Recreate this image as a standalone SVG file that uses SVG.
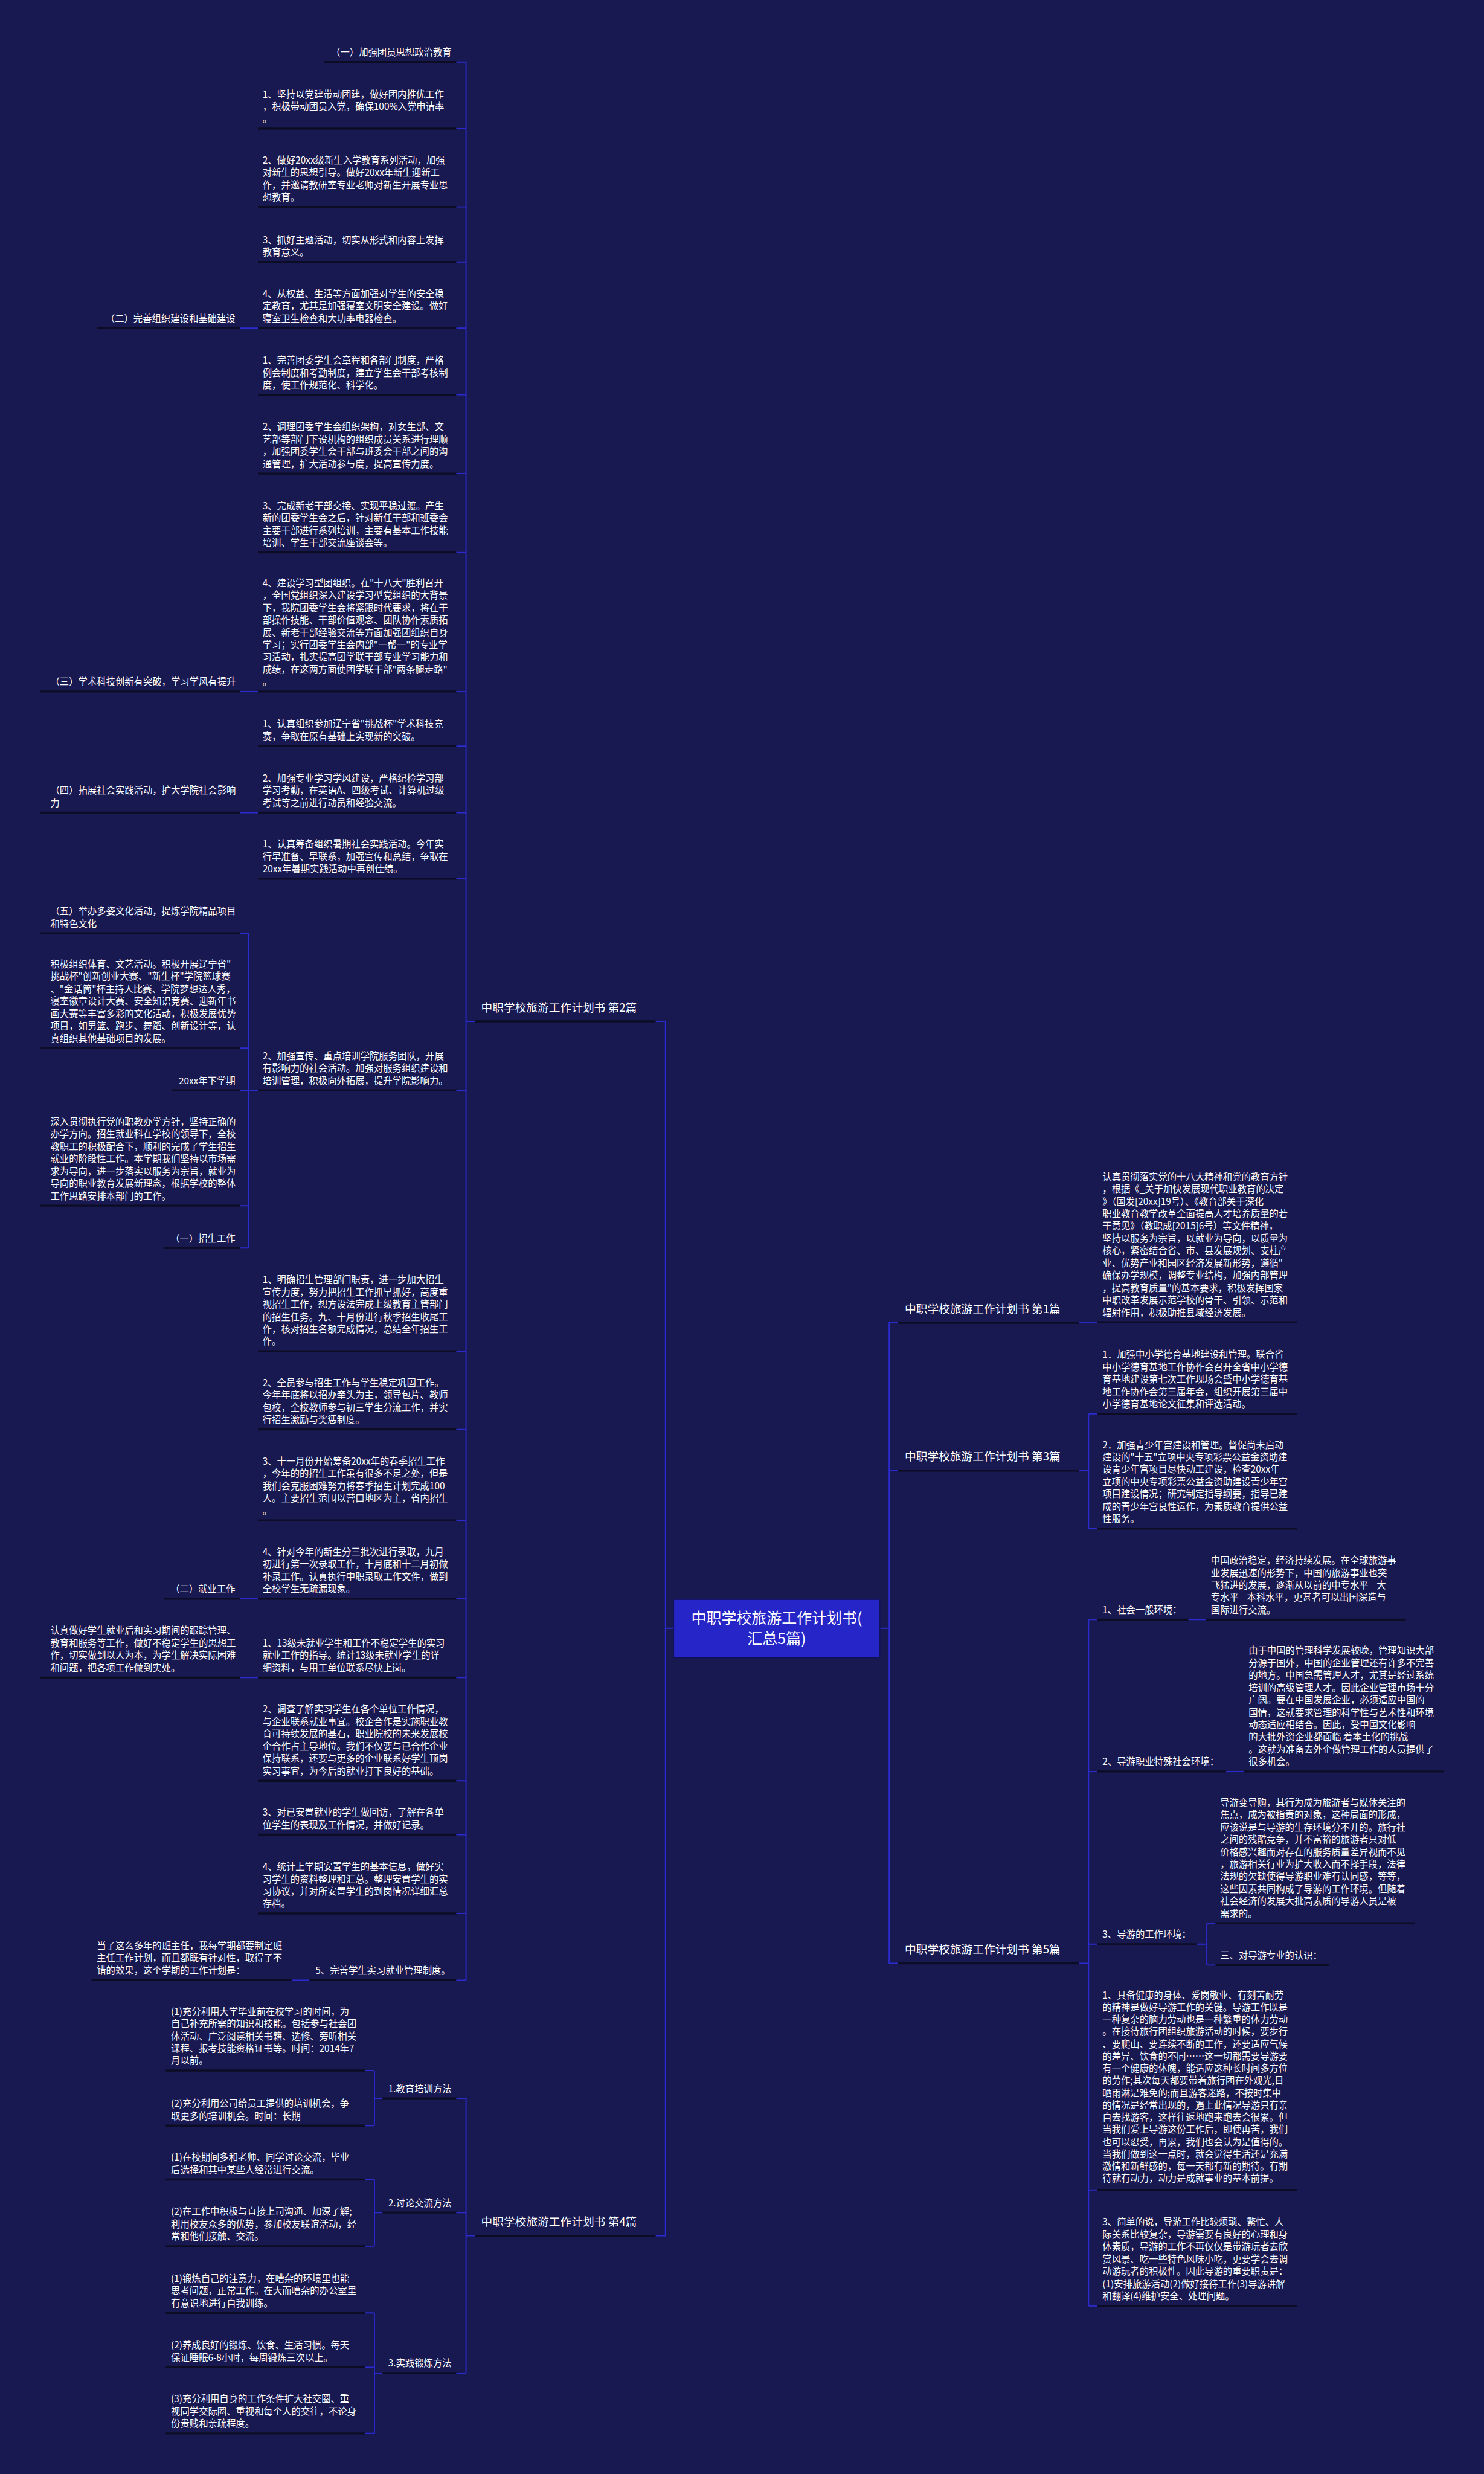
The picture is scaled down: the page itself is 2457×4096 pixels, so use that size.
<svg xmlns="http://www.w3.org/2000/svg" width="2457" height="4096" viewBox="0 0 2457 4096">
<style>
text{font-family:"Noto Sans CJK SC","Noto Sans",sans-serif;fill:#ffffff;font-size:16px}
.h{font-size:19.5px}
.c{font-size:26px;text-anchor:middle}
.e{text-anchor:end}
.u{stroke:#0c0c24;stroke-width:3.5}
.k{stroke:#2b2bd0;stroke-width:2;fill:none}
</style>
<rect width="2457" height="4096" fill="#191952"/>
<g transform="scale(0.9597)">
<g id="connectors" class="k">
<path d="M1131,1762 H1148 V3857 H1131 M1148,2809 H1162"/>
<path d="M1518,2809 H1534 M1549,2282 H1534 V3387 H1549 M1534,2537 H1549"/>
<path d="M819,1762 H804 M804,107 V3416 M787,107 H804 M787,222 H804 M787,357 H804 M787,452 H804 M787,566 H804 M787,681 H804 M787,817 H804 M787,953 H804 M787,1193 H804 M787,1287 H804 M787,1402 H804 M787,1516 H804 M787,1881 H804 M787,2331 H804 M787,2466 H804 M787,2623 H804 M787,2758 H804 M787,2894 H804 M787,3072 H804 M787,3165 H804 M787,3301 H804 M787,3416 H804"/>
<path d="M414,566 H445 M414,1193 H445 M414,1402 H445 M414,2758 H445 M414,2894 H445 M503,3416 H534"/>
<path d="M445,1881 H429 M429,1610 V2153 M414,1610 H429 M414,1808 H429 M414,1881 H429 M414,2080 H429 M414,2153 H429"/>
<path d="M819,3857 H804 M804,3620 V4094 M787,3620 H804 M787,3817 H804 M787,4094 H804"/>
<path d="M660,3620 H646 M646,3572 V3667 M630,3572 H646 M630,3667 H646"/>
<path d="M660,3817 H646 M646,3760 V3875 M630,3760 H646 M630,3875 H646"/>
<path d="M660,4094 H646 M646,3990 V4198 M630,3990 H646 M630,4084 H646 M630,4198 H646"/>
<path d="M1862,2282 H1893"/>
<path d="M1862,2537 H1878 M1878,2439 V2637 M1878,2439 H1893 M1878,2637 H1893"/>
<path d="M1862,3387 H1878 M1878,2794 V3978 M1878,2794 H1893 M1878,3056 H1893 M1878,3354 H1893 M1878,3778 H1893 M1878,3978 H1893"/>
<path d="M2050,2794 H2080 M2115,3056 H2146"/>
<path d="M2065,3354 H2082 M2082,3318 V3390 M2082,3318 H2097 M2082,3390 H2097"/>
</g>

<g id="root">
<rect x="1162" y="2759" width="356" height="101" fill="#2626c8" stroke="#12125a" stroke-width="2"/>
<text class="c" x="1340" y="2801">中职学校旅游工作计划书(</text>
<text class="c" x="1340" y="2836">汇总5篇)</text>
</g>

<g id="p2"><text class="h" x="830" y="1745">中职学校旅游工作计划书 第2篇</text><line class="u" x1="819" y1="1762" x2="1131" y2="1762"/></g>
<g id="p4"><text class="h" x="830" y="3840">中职学校旅游工作计划书 第4篇</text><line class="u" x1="819" y1="3857" x2="1131" y2="3857"/></g>
<g id="p1"><text class="h" x="1561" y="2265">中职学校旅游工作计划书 第1篇</text><line class="u" x1="1549" y1="2282" x2="1862" y2="2282"/></g>
<g id="p3"><text class="h" x="1561" y="2520">中职学校旅游工作计划书 第3篇</text><line class="u" x1="1549" y1="2537" x2="1862" y2="2537"/></g>
<g id="p5"><text class="h" x="1561" y="3370">中职学校旅游工作计划书 第5篇</text><line class="u" x1="1549" y1="3387" x2="1862" y2="3387"/></g>

<g id="a1"><text class="e" x="779" y="96">（一）加强团员思想政治教育</text><line class="u" x1="559" y1="107" x2="787" y2="107"/></g>
<g id="a2"><text x="453" y="168.4"><tspan x="453">1、坚持以党建带动团建，做好团内推优工作</tspan><tspan x="453" dy="21.3">，积极带动团员入党，确保100%入党申请率</tspan><tspan x="453" dy="21.3">。</tspan></text><line class="u" x1="445" y1="222" x2="787" y2="222"/></g>
<g id="a3"><text x="453" y="282.1"><tspan x="453">2、做好20xx级新生入学教育系列活动，加强</tspan><tspan x="453" dy="21.3">对新生的思想引导。做好20xx年新生迎新工</tspan><tspan x="453" dy="21.3">作，并邀请教研室专业老师对新生开展专业思</tspan><tspan x="453" dy="21.3">想教育。</tspan></text><line class="u" x1="445" y1="357" x2="787" y2="357"/></g>
<g id="a4"><text x="453" y="419.7"><tspan x="453">3、抓好主题活动，切实从形式和内容上发挥</tspan><tspan x="453" dy="21.3">教育意义。</tspan></text><line class="u" x1="445" y1="452" x2="787" y2="452"/></g>
<g id="a5"><text x="453" y="512.4"><tspan x="453">4、从权益、生活等方面加强对学生的安全稳</tspan><tspan x="453" dy="21.3">定教育，尤其是加强寝室文明安全建设。做好</tspan><tspan x="453" dy="21.3">寝室卫生检查和大功率电器检查。</tspan></text><line class="u" x1="445" y1="566" x2="787" y2="566"/></g>
<g id="a6"><text x="453" y="627.4"><tspan x="453">1、完善团委学生会章程和各部门制度，严格</tspan><tspan x="453" dy="21.3">例会制度和考勤制度，建立学生会干部考核制</tspan><tspan x="453" dy="21.3">度，使工作规范化、科学化。</tspan></text><line class="u" x1="445" y1="681" x2="787" y2="681"/></g>
<g id="a7"><text x="453" y="742.1"><tspan x="453">2、调理团委学生会组织架构，对女生部、文</tspan><tspan x="453" dy="21.3">艺部等部门下设机构的组织成员关系进行理顺</tspan><tspan x="453" dy="21.3">，加强团委学生会干部与班委会干部之间的沟</tspan><tspan x="453" dy="21.3">通管理，扩大活动参与度，提高宣传力度。</tspan></text><line class="u" x1="445" y1="817" x2="787" y2="817"/></g>
<g id="a8"><text x="453" y="878.1"><tspan x="453">3、完成新老干部交接、实现平稳过渡。产生</tspan><tspan x="453" dy="21.3">新的团委学生会之后，针对新任干部和班委会</tspan><tspan x="453" dy="21.3">主要干部进行系列培训，主要有基本工作技能</tspan><tspan x="453" dy="21.3">培训、学生干部交流座谈会等。</tspan></text><line class="u" x1="445" y1="953" x2="787" y2="953"/></g>
<g id="a9"><text x="453" y="1011.6"><tspan x="453">4、建设学习型团组织。在"十八大"胜利召开</tspan><tspan x="453" dy="21.3">，全国党组织深入建设学习型党组织的大背景</tspan><tspan x="453" dy="21.3">下，我院团委学生会将紧跟时代要求，将在干</tspan><tspan x="453" dy="21.3">部操作技能、干部价值观念、团队协作素质拓</tspan><tspan x="453" dy="21.3">展、新老干部经验交流等方面加强团组织自身</tspan><tspan x="453" dy="21.3">学习；实行团委学生会内部"一帮一"的专业学</tspan><tspan x="453" dy="21.3">习活动，扎实提高团学联干部专业学习能力和</tspan><tspan x="453" dy="21.3">成绩，在这两方面使团学联干部"两条腿走路"</tspan><tspan x="453" dy="21.3">。</tspan></text><line class="u" x1="445" y1="1193" x2="787" y2="1193"/></g>
<g id="a10"><text x="453" y="1254.7"><tspan x="453">1、认真组织参加辽宁省"挑战杯"学术科技竞</tspan><tspan x="453" dy="21.3">赛，争取在原有基础上实现新的突破。</tspan></text><line class="u" x1="445" y1="1287" x2="787" y2="1287"/></g>
<g id="a11"><text x="453" y="1348.4"><tspan x="453">2、加强专业学习学风建设，严格纪检学习部</tspan><tspan x="453" dy="21.3">学习考勤，在英语A、四级考试、计算机过级</tspan><tspan x="453" dy="21.3">考试等之前进行动员和经验交流。</tspan></text><line class="u" x1="445" y1="1402" x2="787" y2="1402"/></g>
<g id="a12"><text x="453" y="1462.4"><tspan x="453">1、认真筹备组织暑期社会实践活动。今年实</tspan><tspan x="453" dy="21.3">行早准备、早联系，加强宣传和总结，争取在</tspan><tspan x="453" dy="21.3">20xx年暑期实践活动中再创佳绩。</tspan></text><line class="u" x1="445" y1="1516" x2="787" y2="1516"/></g>
<g id="a13"><text x="453" y="1827.4"><tspan x="453">2、加强宣传、重点培训学院服务团队，开展</tspan><tspan x="453" dy="21.3">有影响力的社会活动。加强对服务组织建设和</tspan><tspan x="453" dy="21.3">培训管理，积极向外拓展，提升学院影响力。</tspan></text><line class="u" x1="445" y1="1881" x2="787" y2="1881"/></g>
<g id="a14"><text x="453" y="2213.5"><tspan x="453">1、明确招生管理部门职责，进一步加大招生</tspan><tspan x="453" dy="21.3">宣传力度，努力把招生工作抓早抓好，高度重</tspan><tspan x="453" dy="21.3">视招生工作，想方设法完成上级教育主管部门</tspan><tspan x="453" dy="21.3">的招生任务。九、十月份进行秋季招生收尾工</tspan><tspan x="453" dy="21.3">作，核对招生名额完成情况，总结全年招生工</tspan><tspan x="453" dy="21.3">作。</tspan></text><line class="u" x1="445" y1="2331" x2="787" y2="2331"/></g>
<g id="a15"><text x="453" y="2391.1"><tspan x="453">2、全员参与招生工作与学生稳定巩固工作。</tspan><tspan x="453" dy="21.3">今年年底将以招办牵头为主，领导包片、教师</tspan><tspan x="453" dy="21.3">包校，全校教师参与初三学生分流工作，并实</tspan><tspan x="453" dy="21.3">行招生激励与奖惩制度。</tspan></text><line class="u" x1="445" y1="2466" x2="787" y2="2466"/></g>
<g id="a16"><text x="453" y="2526.8"><tspan x="453">3、十一月份开始筹备20xx年的春季招生工作</tspan><tspan x="453" dy="21.3">，今年的的招生工作虽有很多不足之处，但是</tspan><tspan x="453" dy="21.3">我们会克服困难努力将春季招生计划完成100</tspan><tspan x="453" dy="21.3">人。主要招生范围以营口地区为主，省内招生</tspan><tspan x="453" dy="21.3">。</tspan></text><line class="u" x1="445" y1="2623" x2="787" y2="2623"/></g>
<g id="a17"><text x="453" y="2683.1"><tspan x="453">4、针对今年的新生分三批次进行录取，九月</tspan><tspan x="453" dy="21.3">初进行第一次录取工作，十月底和十二月初做</tspan><tspan x="453" dy="21.3">补录工作。认真执行中职录取工作文件，做到</tspan><tspan x="453" dy="21.3">全校学生无疏漏现象。</tspan></text><line class="u" x1="445" y1="2758" x2="787" y2="2758"/></g>
<g id="a18"><text x="453" y="2840.4"><tspan x="453">1、13级未就业学生和工作不稳定学生的实习</tspan><tspan x="453" dy="21.3">就业工作的指导。统计13级未就业学生的详</tspan><tspan x="453" dy="21.3">细资料，与用工单位联系尽快上岗。</tspan></text><line class="u" x1="445" y1="2894" x2="787" y2="2894"/></g>
<g id="a19"><text x="453" y="2954.5"><tspan x="453">2、调查了解实习学生在各个单位工作情况，</tspan><tspan x="453" dy="21.3">与企业联系就业事宜。校企合作是实施职业教</tspan><tspan x="453" dy="21.3">育可持续发展的基石，职业院校的未来发展校</tspan><tspan x="453" dy="21.3">企合作占主导地位。我们不仅要与已合作企业</tspan><tspan x="453" dy="21.3">保持联系，还要与更多的企业联系好学生顶岗</tspan><tspan x="453" dy="21.3">实习事宜，为今后的就业打下良好的基础。</tspan></text><line class="u" x1="445" y1="3072" x2="787" y2="3072"/></g>
<g id="a20"><text x="453" y="3132.7"><tspan x="453">3、对已安置就业的学生做回访，了解在各单</tspan><tspan x="453" dy="21.3">位学生的表现及工作情况，并做好记录。</tspan></text><line class="u" x1="445" y1="3165" x2="787" y2="3165"/></g>
<g id="a21"><text x="453" y="3226.1"><tspan x="453">4、统计上学期安置学生的基本信息，做好实</tspan><tspan x="453" dy="21.3">习学生的资料整理和汇总。整理安置学生的实</tspan><tspan x="453" dy="21.3">习协议，并对所安置学生的到岗情况详细汇总</tspan><tspan x="453" dy="21.3">存档。</tspan></text><line class="u" x1="445" y1="3301" x2="787" y2="3301"/></g>
<g id="a22"><text class="e" x="777" y="3405">5、完善学生实习就业管理制度。</text><line class="u" x1="534" y1="3416" x2="787" y2="3416"/></g>

<g id="b1"><text class="e" x="406" y="555">（二）完善组织建设和基础建设</text><line class="u" x1="168" y1="566" x2="414" y2="566"/></g>
<g id="b2"><text x="87" y="1182">（三）学术科技创新有突破，学习学风有提升</text><line class="u" x1="70" y1="1193" x2="414" y2="1193"/></g>
<g id="b3"><text x="87" y="1369.7"><tspan x="87">（四）拓展社会实践活动，扩大学院社会影响</tspan><tspan x="87" dy="21.3">力</tspan></text><line class="u" x1="70" y1="1402" x2="414" y2="1402"/></g>
<g id="b4"><text x="87" y="1577.7"><tspan x="87">（五）举办多姿文化活动，提炼学院精品项目</tspan><tspan x="87" dy="21.3">和特色文化</tspan></text><line class="u" x1="70" y1="1610" x2="414" y2="1610"/></g>
<g id="b5"><text x="87" y="1669.2"><tspan x="87">积极组织体育、文艺活动。积极开展辽宁省"</tspan><tspan x="87" dy="21.3">挑战杯"创新创业大赛、"新生杯"学院篮球赛</tspan><tspan x="87" dy="21.3">、"金话筒"杯主持人比赛、学院梦想达人秀，</tspan><tspan x="87" dy="21.3">寝室徽章设计大赛、安全知识竞赛、迎新年书</tspan><tspan x="87" dy="21.3">画大赛等丰富多彩的文化活动，积极发展优势</tspan><tspan x="87" dy="21.3">项目，如男篮、跑步、舞蹈、创新设计等，认</tspan><tspan x="87" dy="21.3">真组织其他基础项目的发展。</tspan></text><line class="u" x1="70" y1="1808" x2="414" y2="1808"/></g>
<g id="b6"><text class="e" x="406" y="1870">20xx年下学期</text><line class="u" x1="296" y1="1881" x2="414" y2="1881"/></g>
<g id="b7"><text x="87" y="1941.2"><tspan x="87">深入贯彻执行党的职教办学方针，坚持正确的</tspan><tspan x="87" dy="21.3">办学方向。招生就业科在学校的领导下，全校</tspan><tspan x="87" dy="21.3">教职工的积极配合下，顺利的完成了学生招生</tspan><tspan x="87" dy="21.3">就业的阶段性工作。本学期我们坚持以市场需</tspan><tspan x="87" dy="21.3">求为导向，进一步落实以服务为宗旨，就业为</tspan><tspan x="87" dy="21.3">导向的职业教育发展新理念，根据学校的整体</tspan><tspan x="87" dy="21.3">工作思路安排本部门的工作。</tspan></text><line class="u" x1="70" y1="2080" x2="414" y2="2080"/></g>
<g id="b8"><text class="e" x="406" y="2142">（一）招生工作</text><line class="u" x1="283" y1="2153" x2="414" y2="2153"/></g>
<g id="b9"><text class="e" x="406" y="2747">（二）就业工作</text><line class="u" x1="283" y1="2758" x2="414" y2="2758"/></g>
<g id="b10"><text x="87" y="2819.1"><tspan x="87">认真做好学生就业后和实习期间的跟踪管理、</tspan><tspan x="87" dy="21.3">教育和服务等工作，做好不稳定学生的思想工</tspan><tspan x="87" dy="21.3">作，切实做到以人为本，为学生解决实际困难</tspan><tspan x="87" dy="21.3">和问题，把各项工作做到实处。</tspan></text><line class="u" x1="70" y1="2894" x2="414" y2="2894"/></g>
<g id="b11"><text x="167" y="3362.4"><tspan x="167">当了这么多年的班主任，我每学期都要制定班</tspan><tspan x="167" dy="21.3">主任工作计划，而且都既有针对性，取得了不</tspan><tspan x="167" dy="21.3">错的效果，这个学期的工作计划是：</tspan></text><line class="u" x1="158" y1="3416" x2="503" y2="3416"/></g>

<g id="c1"><text class="e" x="779" y="3609">1.教育培训方法</text><line class="u" x1="660" y1="3620" x2="787" y2="3620"/></g>
<g id="c2"><text class="e" x="779" y="3806">2.讨论交流方法</text><line class="u" x1="660" y1="3817" x2="787" y2="3817"/></g>
<g id="c3"><text class="e" x="779" y="4083">3.实践锻炼方法</text><line class="u" x1="660" y1="4094" x2="787" y2="4094"/></g>
<g id="d1"><text x="295" y="3475.8"><tspan x="295">(1)充分利用大学毕业前在校学习的时间，为</tspan><tspan x="295" dy="21.3">自己补充所需的知识和技能。包括参与社会团</tspan><tspan x="295" dy="21.3">体活动、广泛阅读相关书籍、选修、旁听相关</tspan><tspan x="295" dy="21.3">课程、报考技能资格证书等。时间：2014年7</tspan><tspan x="295" dy="21.3">月以前。</tspan></text><line class="u" x1="286" y1="3572" x2="630" y2="3572"/></g>
<g id="d2"><text x="295" y="3634.7"><tspan x="295">(2)充分利用公司给员工提供的培训机会，争</tspan><tspan x="295" dy="21.3">取更多的培训机会。时间：长期</tspan></text><line class="u" x1="286" y1="3667" x2="630" y2="3667"/></g>
<g id="d3"><text x="295" y="3727.7"><tspan x="295">(1)在校期间多和老师、同学讨论交流，毕业</tspan><tspan x="295" dy="21.3">后选择和其中某些人经常进行交流。</tspan></text><line class="u" x1="286" y1="3760" x2="630" y2="3760"/></g>
<g id="d4"><text x="295" y="3821.4"><tspan x="295">(2)在工作中积极与直接上司沟通、加深了解;</tspan><tspan x="295" dy="21.3">利用校友众多的优势，参加校友联谊活动，经</tspan><tspan x="295" dy="21.3">常和他们接触、交流。</tspan></text><line class="u" x1="286" y1="3875" x2="630" y2="3875"/></g>
<g id="d5"><text x="295" y="3936.4"><tspan x="295">(1)锻炼自己的注意力，在嘈杂的环境里也能</tspan><tspan x="295" dy="21.3">思考问题，正常工作。在大而嘈杂的办公室里</tspan><tspan x="295" dy="21.3">有意识地进行自我训练。</tspan></text><line class="u" x1="286" y1="3990" x2="630" y2="3990"/></g>
<g id="d6"><text x="295" y="4051.7"><tspan x="295">(2)养成良好的锻炼、饮食、生活习惯。每天</tspan><tspan x="295" dy="21.3">保证睡眠6-8小时，每周锻炼三次以上。</tspan></text><line class="u" x1="286" y1="4084" x2="630" y2="4084"/></g>
<g id="d7"><text x="295" y="4144.4"><tspan x="295">(3)充分利用自身的工作条件扩大社交圈、重</tspan><tspan x="295" dy="21.3">视同学交际圈、重视和每个人的交往，不论身</tspan><tspan x="295" dy="21.3">份贵贱和亲疏程度。</tspan></text><line class="u" x1="286" y1="4198" x2="630" y2="4198"/></g>

<g id="e1"><text x="1902" y="2035.7"><tspan x="1902">认真贯彻落实党的十八大精神和党的教育方针</tspan><tspan x="1902" dy="21.3">，根据《_关于加快发展现代职业教育的决定</tspan><tspan x="1902" dy="21.3">》（国发[20xx]19号）、《教育部关于深化</tspan><tspan x="1902" dy="21.3">职业教育教学改革全面提高人才培养质量的若</tspan><tspan x="1902" dy="21.3">干意见》（教职成[2015]6号）等文件精神，</tspan><tspan x="1902" dy="21.3">坚持以服务为宗旨，以就业为导向，以质量为</tspan><tspan x="1902" dy="21.3">核心，紧密结合省、市、县发展规划、支柱产</tspan><tspan x="1902" dy="21.3">业、优势产业和园区经济发展新形势，遵循"</tspan><tspan x="1902" dy="21.3">确保办学规模，调整专业结构，加强内部管理</tspan><tspan x="1902" dy="21.3">，提高教育质量"的基本要求，积极发挥国家</tspan><tspan x="1902" dy="21.3">中职改革发展示范学校的骨干、引领、示范和</tspan><tspan x="1902" dy="21.3">辐射作用，积极助推县域经济发展。</tspan></text><line class="u" x1="1893" y1="2281" x2="2237" y2="2281"/></g>
<g id="e2"><text x="1902" y="2342.8"><tspan x="1902">1．加强中小学德育基地建设和管理。联合省</tspan><tspan x="1902" dy="21.3">中小学德育基地工作协作会召开全省中小学德</tspan><tspan x="1902" dy="21.3">育基地建设第七次工作现场会暨中小学德育基</tspan><tspan x="1902" dy="21.3">地工作协作会第三届年会，组织开展第三届中</tspan><tspan x="1902" dy="21.3">小学德育基地论文征集和评选活动。</tspan></text><line class="u" x1="1893" y1="2439" x2="2237" y2="2439"/></g>
<g id="e3"><text x="1902" y="2498.2"><tspan x="1902">2．加强青少年宫建设和管理。督促尚未启动</tspan><tspan x="1902" dy="21.3">建设的"十五"立项中央专项彩票公益金资助建</tspan><tspan x="1902" dy="21.3">设青少年宫项目尽快动工建设，检查20xx年</tspan><tspan x="1902" dy="21.3">立项的中央专项彩票公益金资助建设青少年宫</tspan><tspan x="1902" dy="21.3">项目建设情况；研究制定指导纲要，指导已建</tspan><tspan x="1902" dy="21.3">成的青少年宫良性运作，为素质教育提供公益</tspan><tspan x="1902" dy="21.3">性服务。</tspan></text><line class="u" x1="1893" y1="2637" x2="2237" y2="2637"/></g>

<g id="f1"><text x="1902" y="2783">1、社会一般环境：</text><line class="u" x1="1893" y1="2794" x2="2050" y2="2794"/></g>
<g id="g1"><text x="2089" y="2697.8"><tspan x="2089">中国政治稳定，经济持续发展。在全球旅游事</tspan><tspan x="2089" dy="21.3">业发展迅速的形势下，中国的旅游事业也突</tspan><tspan x="2089" dy="21.3">飞猛进的发展，逐渐从以前的中专水平—大</tspan><tspan x="2089" dy="21.3">专水平—本科水平，更甚者可以出国深造与</tspan><tspan x="2089" dy="21.3">国际进行交流。</tspan></text><line class="u" x1="2080" y1="2794" x2="2425" y2="2794"/></g>
<g id="f2"><text x="1902" y="3045">2、导游职业特殊社会环境：</text><line class="u" x1="1893" y1="3056" x2="2115" y2="3056"/></g>
<g id="g2"><text x="2154" y="2853.3"><tspan x="2154">由于中国的管理科学发展较晚，管理知识大部</tspan><tspan x="2154" dy="21.3">分源于国外，中国的企业管理还有许多不完善</tspan><tspan x="2154" dy="21.3">的地方。中国急需管理人才，尤其是经过系统</tspan><tspan x="2154" dy="21.3">培训的高级管理人才。因此企业管理市场十分</tspan><tspan x="2154" dy="21.3">广阔。要在中国发展企业，必须适应中国的</tspan><tspan x="2154" dy="21.3">国情，这就要求管理的科学性与艺术性和环境</tspan><tspan x="2154" dy="21.3">动态适应相结合。因此，受中国文化影响</tspan><tspan x="2154" dy="21.3">的大批外资企业都面临 着本土化的挑战</tspan><tspan x="2154" dy="21.3">。这就为准备去外企做管理工作的人员提供了</tspan><tspan x="2154" dy="21.3">很多机会。</tspan></text><line class="u" x1="2146" y1="3056" x2="2490" y2="3056"/></g>
<g id="f3"><text x="1902" y="3343">3、导游的工作环境：</text><line class="u" x1="1893" y1="3354" x2="2065" y2="3354"/></g>
<g id="g3"><text x="2105" y="3115.3"><tspan x="2105">导游变导购，其行为成为旅游者与媒体关注的</tspan><tspan x="2105" dy="21.3">焦点，成为被指责的对象，这种局面的形成，</tspan><tspan x="2105" dy="21.3">应该说是与导游的生存环境分不开的。旅行社</tspan><tspan x="2105" dy="21.3">之间的残酷竞争，并不富裕的旅游者只对低</tspan><tspan x="2105" dy="21.3">价格感兴趣而对存在的服务质量差异视而不见</tspan><tspan x="2105" dy="21.3">，旅游相关行业为扩大收入而不择手段，法律</tspan><tspan x="2105" dy="21.3">法规的欠缺使得导游职业难有认同感，等等，</tspan><tspan x="2105" dy="21.3">这些因素共同构成了导游的工作环境。但随着</tspan><tspan x="2105" dy="21.3">社会经济的发展大批高素质的导游人员是被</tspan><tspan x="2105" dy="21.3">需求的。</tspan></text><line class="u" x1="2097" y1="3318" x2="2440" y2="3318"/></g>
<g id="g4"><text x="2105" y="3379">三、对导游专业的认识：</text><line class="u" x1="2097" y1="3390" x2="2293" y2="3390"/></g>
<g id="f4"><text x="1902" y="3447.5"><tspan x="1902">1、具备健康的身体、爱岗敬业、有刻苦耐劳</tspan><tspan x="1902" dy="21.1">的精神是做好导游工作的关键。导游工作既是</tspan><tspan x="1902" dy="21.1">一种复杂的脑力劳动也是一种繁重的体力劳动</tspan><tspan x="1902" dy="21.1">。在接待旅行团组织旅游活动的时候，要步行</tspan><tspan x="1902" dy="21.1">、要爬山、要连续不断的工作，还要适应气候</tspan><tspan x="1902" dy="21.1">的差异、饮食的不同……这一切都需要导游要</tspan><tspan x="1902" dy="21.1">有一个健康的体魄，能适应这种长时间多方位</tspan><tspan x="1902" dy="21.1">的劳作;其次每天都要带着旅行团在外观光,日</tspan><tspan x="1902" dy="21.1">晒雨淋是难免的;而且游客迷路，不按时集中</tspan><tspan x="1902" dy="21.1">的情况是经常出现的，遇上此情况导游只有亲</tspan><tspan x="1902" dy="21.1">自去找游客，这样往返地跑来跑去会很累。但</tspan><tspan x="1902" dy="21.1">当我们爱上导游这份工作后，即使再苦，我们</tspan><tspan x="1902" dy="21.1">也可以忍受，再累，我们也会认为是值得的。</tspan><tspan x="1902" dy="21.1">当我们做到这一点时，就会觉得生活还是充满</tspan><tspan x="1902" dy="21.1">激情和新鲜感的，每一天都有新的期待。有期</tspan><tspan x="1902" dy="21.1">待就有动力，动力是成就事业的基本前提。</tspan></text><line class="u" x1="1893" y1="3778" x2="2237" y2="3778"/></g>
<g id="f5"><text x="1902" y="3839.2"><tspan x="1902">3、简单的说，导游工作比较烦琐、繁忙、人</tspan><tspan x="1902" dy="21.3">际关系比较复杂，导游需要有良好的心理和身</tspan><tspan x="1902" dy="21.3">体素质，导游的工作不再仅仅是带游玩者去欣</tspan><tspan x="1902" dy="21.3">赏风景、吃一些特色风味小吃，更要学会去调</tspan><tspan x="1902" dy="21.3">动游玩者的积极性。因此导游的重要职责是：</tspan><tspan x="1902" dy="21.3">(1)安排旅游活动(2)做好接待工作(3)导游讲解</tspan><tspan x="1902" dy="21.3">和翻译(4)维护安全、处理问题。</tspan></text><line class="u" x1="1893" y1="3978" x2="2237" y2="3978"/></g>
</g>
</svg>
